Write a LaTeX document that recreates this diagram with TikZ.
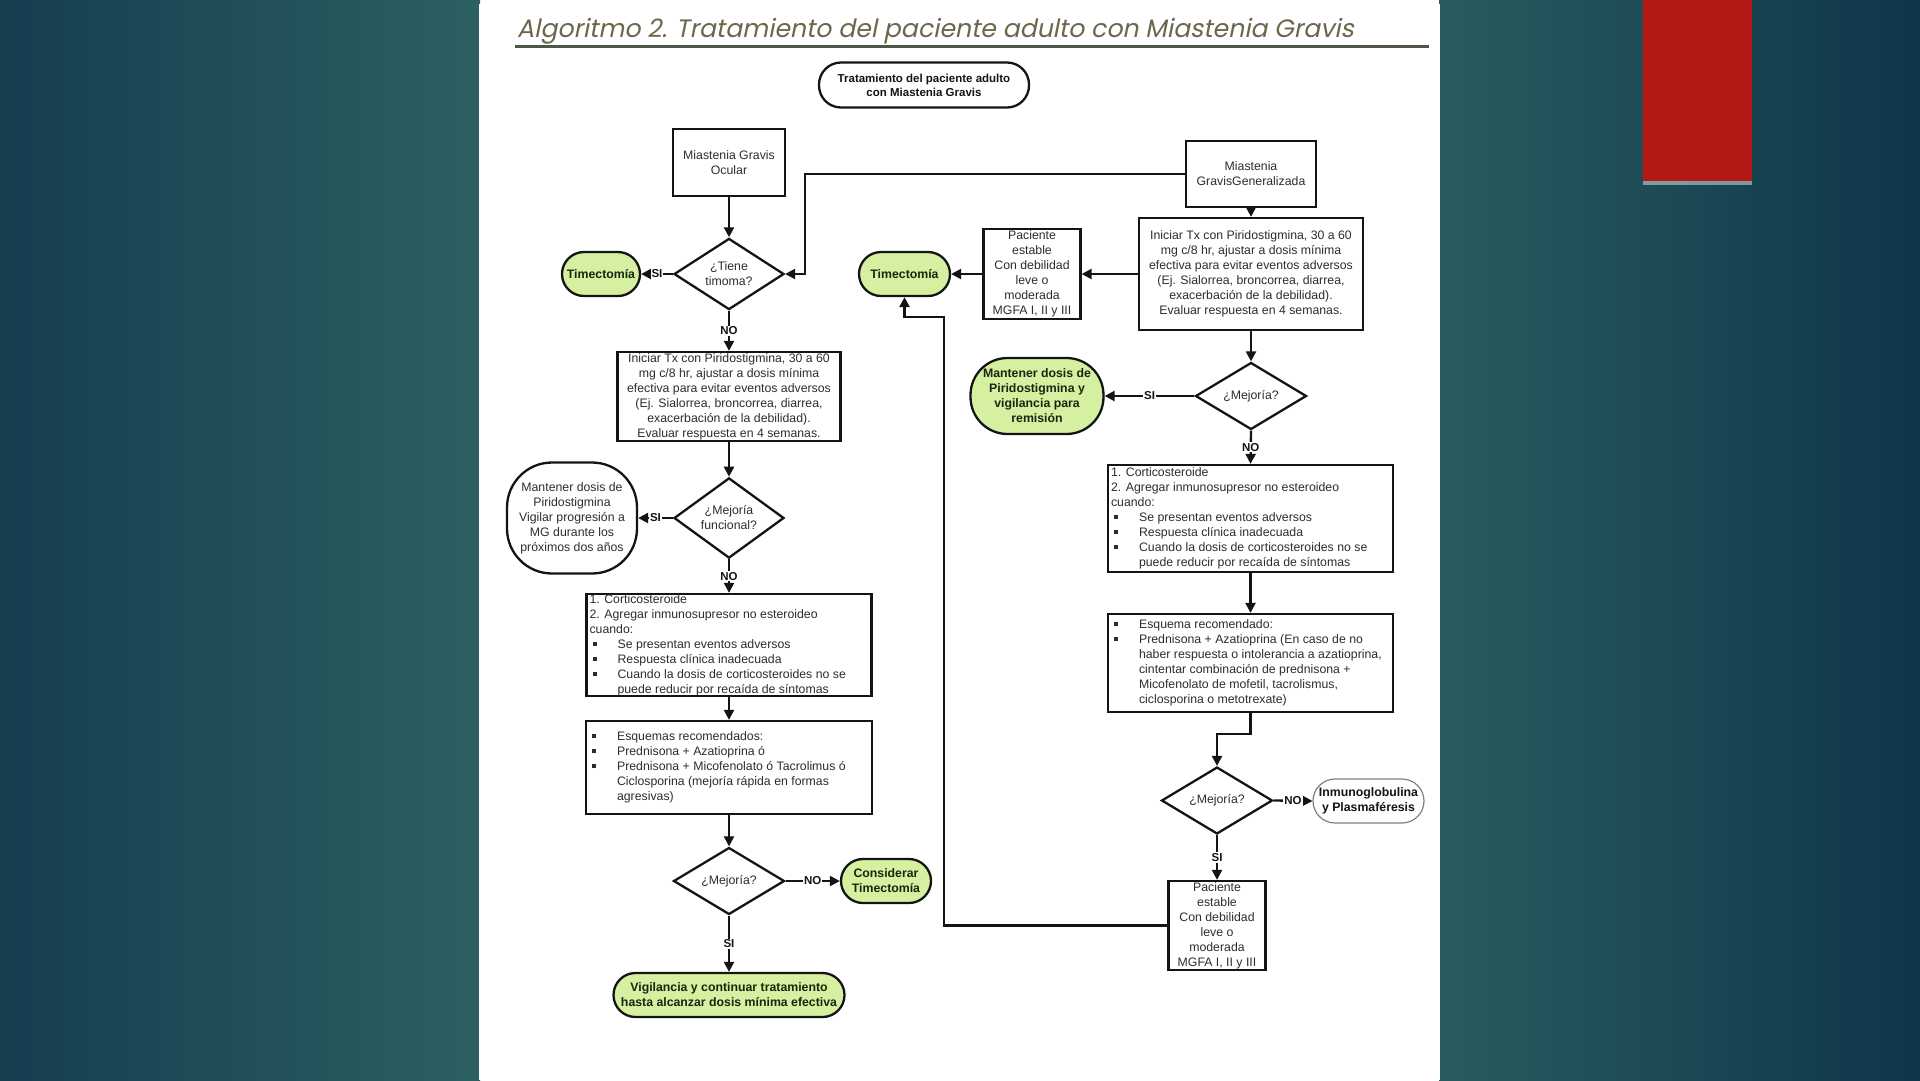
\documentclass[tikz,border=0pt]{standalone}
\usepackage{fontspec}
\setmainfont{Liberation Sans}
\newfontfamily\titlefont{Poppins}[FakeSlant=0.2]
\usetikzlibrary{arrows.meta,shapes.geometric}

\definecolor{bgA}{RGB}{21,62,80}
\definecolor{bgB}{RGB}{44,96,97}
\definecolor{bgC}{RGB}{40,92,95}
\definecolor{bgD}{RGB}{14,54,74}
\definecolor{redbar}{RGB}{178,24,20}
\definecolor{titlec}{RGB}{108,102,76}
\definecolor{rulec}{RGB}{78,88,74}
\definecolor{greenf}{RGB}{212,240,160}
\definecolor{txt}{RGB}{45,45,45}
\definecolor{gtxt}{RGB}{25,38,15}
\definecolor{lnc}{RGB}{20,20,20}

\newcommand{\boxfs}{\fontsize{12.3}{15}\selectfont}
\newcommand{\boldfs}{\bfseries\fontsize{12.3}{15}\selectfont}
\newcommand{\bul}{\makebox[28pt][l]{\hspace{3pt}\raisebox{2.5pt}{\rule{4pt}{4pt}}}}
\newcommand{\ind}{\hspace*{28pt}}

\tikzset{
  box/.style={draw=lnc, line width=2.3pt, inner sep=0pt, align=center, font=\boxfs, text=txt, fill=white},
  dia/.style={diamond, draw=lnc, line width=2.3pt, inner sep=0pt, align=center, font=\boxfs, text=txt, fill=white},
  gterm/.style={draw=lnc, line width=2.3pt, inner sep=0pt, align=center, font=\boldfs, text=gtxt, fill=greenf, rounded corners=22pt, minimum height=44pt},
  wterm/.style={draw=lnc, line width=2.3pt, inner sep=0pt, align=center, font=\boxfs, text=txt, fill=white},
  arr/.style={draw=lnc, line width=2.3pt, -{Triangle[length=10pt,width=10pt]}},
  lbl/.style={fill=white, inner sep=1pt, font=\bfseries\fontsize{11.5}{12}\selectfont, text=lnc},
  ltext/.style={anchor=west, align=left, inner sep=0pt, font=\boxfs, text=txt}
}

\begin{document}
\begin{tikzpicture}[x=1pt,y=-1pt]
\useasboundingbox (0,0) rectangle (1920,1080);
% background
\fill[left color=bgA, right color=bgB] (0,0) rectangle (480,1080);
\fill[left color=bgC, right color=bgD] (1439,0) rectangle (1920,1080);
\fill[white] (479,4) rectangle (1440,1080);
% red bar
\fill[white,opacity=0.45] (1643,180) rectangle (1752,185);
\fill[redbar] (1643,0) rectangle (1752,181);

% title
\node[anchor=base west, inner sep=0pt, text=titlec] (title) at (517,37)
  {\titlefont\fontsize{25.2}{30}\selectfont Algoritmo 2. Tratamiento del paciente adulto con Miastenia Gravis};
\draw[rulec, line width=2.4pt] (515,46.5) -- (1429,46.5);

% start
\node[wterm, rounded corners=22pt, minimum width=210pt, minimum height=45pt, font=\bfseries\fontsize{11.5}{14}\selectfont, text=lnc] (start) at (924,85)
  {Tratamiento del paciente adulto\\con Miastenia Gravis};

% ===== left column =====
\node[box, minimum width=112pt, minimum height=67pt] (ocu) at (729,162.5) {Miastenia Gravis\\Ocular};
\node[dia, minimum width=110pt, minimum height=64pt] (d1) at (729,274) {¿Tiene\\timoma?};
\node[gterm, minimum width=78pt] (tim1) at (601,274) {Timectomía};
\node[box, minimum width=223pt, minimum height=89pt] (b1) at (729,396.5)
  {Iniciar Tx con Piridostigmina, 30 a 60\\mg c/8 hr, ajustar a dosis mínima\\efectiva para evitar eventos adversos\\(Ej. Sialorrea, broncorrea, diarrea,\\exacerbación de la debilidad).\\Evaluar respuesta en 4 semanas.};
\node[dia, minimum width=110pt, minimum height=65pt] (d2) at (729,518) {¿Mejoría\\funcional?};
\node[wterm, rounded corners=45pt, minimum width=130pt, minimum height=111pt] (man1) at (572,518)
  {Mantener dosis de\\Piridostigmina\\Vigilar progresión a\\MG durante los\\próximos dos años};
\node[box, minimum width=285pt, minimum height=102pt] (cor1) at (729,645) {};
\node[ltext] (cor1t) at ([xshift=4pt]cor1.west)
  {1. Corticosteroide\\2. Agregar inmunosupresor no esteroideo\\cuando:\\\bul Se presentan eventos adversos\\\bul Respuesta clínica inadecuada\\\bul Cuando la dosis de corticosteroides no se\\\ind puede reducir por recaída de síntomas};
\node[box, minimum width=286pt, minimum height=93pt] (esq1) at (729,767.5) {};
\node[ltext] (esq1t) at ([xshift=4pt]esq1.west)
  {\bul Esquemas recomendados:\\\bul Prednisona + Azatioprina ó\\\bul Prednisona + Micofenolato ó Tacrolimus ó\\\ind Ciclosporina (mejoría rápida en formas\\\ind agresivas)};
\node[dia, minimum width=111pt, minimum height=66pt] (d3) at (729,881) {¿Mejoría?};
\node[gterm, minimum width=90pt] (con) at (886,881) {Considerar\\Timectomía};
\node[gterm, minimum width=231pt] (vig) at (729,995) {Vigilancia y continuar tratamiento\\hasta alcanzar dosis mínima efectiva};

% ===== right column =====
\node[box, minimum width=130pt, minimum height=66pt] (gen) at (1251,174) {Miastenia\\GravisGeneralizada};
\node[box, minimum width=224pt, minimum height=112pt] (b2) at (1251,274)
  {Iniciar Tx con Piridostigmina, 30 a 60\\mg c/8 hr, ajustar a dosis mínima\\efectiva para evitar eventos adversos\\(Ej. Sialorrea, broncorrea, diarrea,\\exacerbación de la debilidad).\\Evaluar respuesta en 4 semanas.};
\node[box, minimum width=97pt, minimum height=90pt] (pac1) at (1032,274)
  {Paciente\\estable\\Con debilidad\\leve o\\moderada\\MGFA I, II y III};
\node[gterm, minimum width=91pt] (tim2) at (904.5,274) {Timectomía};
\node[dia, minimum width=111pt, minimum height=66pt] (d4) at (1251,396) {¿Mejoría?};
\node[gterm, rounded corners=37pt, minimum width=133pt, minimum height=76pt] (man2) at (1037,396)
  {Mantener dosis de\\Piridostigmina y\\vigilancia para\\remisión};
\node[box, minimum width=285pt, minimum height=107pt] (cor2) at (1250.5,518.5) {};
\node[ltext] (cor2t) at ([xshift=4pt]cor2.west)
  {1. Corticosteroide\\2. Agregar inmunosupresor no esteroideo\\cuando:\\\bul Se presentan eventos adversos\\\bul Respuesta clínica inadecuada\\\bul Cuando la dosis de corticosteroides no se\\\ind puede reducir por recaída de síntomas};
\node[box, minimum width=285pt, minimum height=98pt] (esq2) at (1250.5,663) {};
\node[ltext] (esq2t) at ([xshift=4pt]esq2.west)
  {\bul Esquema recomendado:\\\bul Prednisona + Azatioprina (En caso de no\\\ind haber respuesta o intolerancia a azatioprina,\\\ind cintentar combinación de prednisona +\\\ind Micofenolato de mofetil, tacrolismus,\\\ind ciclosporina o metotrexate)};
\node[dia, minimum width=111pt, minimum height=65pt] (d5) at (1217,800.5) {¿Mejoría?};
\node[wterm, draw=gray, line width=1.2pt, rounded corners=22pt, minimum width=111pt, minimum height=44pt, font=\boldfs, text=lnc] (inm) at (1368.5,801)
  {Inmunoglobulina\\y Plasmaféresis};
\node[box, minimum width=97pt, minimum height=89pt] (pac2) at (1217,925.5)
  {Paciente\\estable\\Con debilidad\\leve o\\moderada\\MGFA I, II y III};

\coordinate (j1) at (805,174);
\coordinate (j2) at (944,317);

% ===== connectors left =====
\draw[arr] (ocu.south) -- (d1.north);
\draw[arr] (d1.west) -- node[lbl]{SI} (tim1.east);
\draw[arr] (d1.south) -- node[lbl]{NO} (b1.north);
\draw[arr] (b1.south) -- (d2.north);
\draw[arr] (d2.west) -- node[lbl]{SI} (man1.east);
\draw[arr] (d2.south) -- node[lbl]{NO} (cor1.north);
\draw[arr] (cor1.south) -- (esq1.north);
\draw[arr] (esq1.south) -- (d3.north);
\draw[arr] (d3.east) -- node[lbl]{NO} (con.west);
\draw[arr] (d3.south) -- node[lbl]{SI} (vig.north);

% ===== connectors right =====
\draw[arr] (gen.west) -- (j1) |- (d1.east);
\draw[arr] (gen.south) -- (b2.north);
\draw[arr] (b2.west) -- (pac1.east);
\draw[arr] (pac1.west) -- (tim2.east);
\draw[arr] (b2.south) -- (d4.north);
\draw[arr] (d4.west) -- node[lbl]{SI} (man2.east);
\draw[arr] (d4.south) -- node[lbl]{NO} (cor2.north);
\draw[arr] (cor2.south) -- (esq2.north);
\draw[arr] (esq2.south) -- ++(0,21) -| (d5.north);
\draw[arr] (d5.east) -- node[lbl]{NO} (inm.west);
\draw[arr] (d5.south) -- node[lbl]{SI} (pac2.north);
\draw[arr] (pac2.west) -| (j2) -| (tim2.south);
\end{tikzpicture}
\end{document}
